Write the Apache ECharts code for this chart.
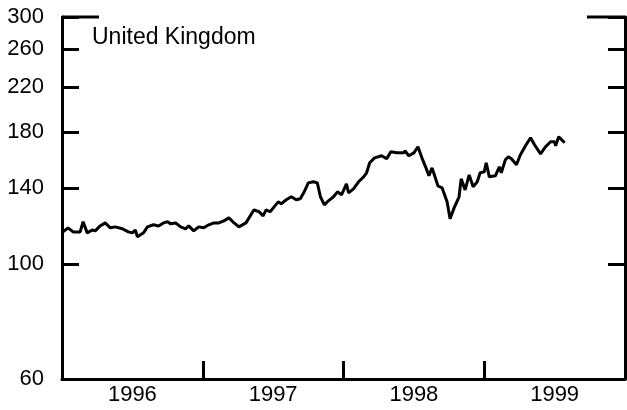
<!DOCTYPE html>
<html>
<head>
<meta charset="utf-8">
<script src="https://cdn.jsdelivr.net/npm/echarts@6/dist/echarts.min.js"></script>
<style>
  html, body { margin: 0; padding: 0; background: #fff; }
  #main { width: 627px; height: 410px; }
</style>
</head>
<body>
<div id="main"></div>
<script>
var dates = [
  1996.000, 1996.043, 1996.079, 1996.129, 1996.150, 1996.179, 1996.214, 1996.236, 1996.271, 1996.307,
  1996.343, 1996.379, 1996.429, 1996.471, 1996.500, 1996.521, 1996.536, 1996.579, 1996.607, 1996.650,
  1996.686, 1996.721, 1996.750, 1996.771, 1996.807, 1996.843, 1996.879, 1996.900, 1996.936, 1996.971,
  1997.007, 1997.043, 1997.079, 1997.114, 1997.150, 1997.186, 1997.214, 1997.257, 1997.307, 1997.364,
  1997.400, 1997.429, 1997.450, 1997.479, 1997.507, 1997.536, 1997.557, 1997.593, 1997.629, 1997.664,
  1997.693, 1997.721, 1997.750, 1997.786, 1997.814, 1997.836, 1997.864, 1997.893, 1997.929, 1997.957,
  1997.986, 1998.021, 1998.036, 1998.071, 1998.107, 1998.143, 1998.164, 1998.186, 1998.221, 1998.271,
  1998.307, 1998.336, 1998.379, 1998.429, 1998.436, 1998.464, 1998.500, 1998.529, 1998.557, 1998.586,
  1998.607, 1998.629, 1998.650, 1998.671, 1998.700, 1998.736, 1998.757, 1998.786, 1998.821, 1998.836,
  1998.864, 1998.893, 1998.921, 1998.950, 1998.971, 1999.000, 1999.014, 1999.036, 1999.079, 1999.107,
  1999.121, 1999.150, 1999.171, 1999.193, 1999.229, 1999.257, 1999.293, 1999.307, 1999.329, 1999.357,
  1999.400, 1999.436, 1999.471, 1999.500, 1999.507, 1999.529, 1999.571
];
var values = [
  115.0, 117.5, 115.4, 115.4, 120.7, 114.9, 116.4, 115.9, 118.5, 120.1,
  117.5, 118.0, 117.0, 115.4, 114.9, 116.4, 112.9, 114.9, 118.0, 119.1,
  118.5, 120.1, 120.7, 119.6, 120.1, 118.0, 117.0, 118.5, 115.9, 118.0,
  117.5, 119.1, 120.1, 120.1, 121.2, 122.8, 120.7, 118.0, 120.1, 127.3,
  126.2, 123.9, 127.3, 126.2, 129.0, 131.9, 130.7, 133.1, 134.9, 133.1,
  133.7, 137.9, 143.5, 144.2, 143.5, 134.9, 130.1, 132.5, 134.9, 137.9,
  136.1, 142.9, 137.3, 139.7, 144.2, 147.4, 150.1, 156.9, 160.4, 161.9,
  159.7, 164.8, 164.0, 164.0, 165.5, 161.9, 164.0, 168.5, 160.4, 153.4,
  148.1, 153.4, 147.4, 141.6, 140.4, 131.9, 122.3, 128.4, 134.9, 146.1,
  139.1, 148.7, 141.0, 144.2, 150.1, 150.7, 156.9, 147.4, 148.1, 154.1,
  150.1, 159.0, 161.1, 159.7, 155.5, 162.6, 169.2, 168.5, 175.4, 170.0,
  163.3, 168.5, 172.3, 172.3, 169.2, 176.1, 171.5
];
var yTicks = [60, 100, 140, 180, 220, 260, 300];
var yearTicks = [1997, 1998, 1999];
var yearLabels = [1996.5, 1997.5, 1998.5, 1999.5];

var seriesData = dates.map(function (d, i) { return [d, values[i]]; });

var myChart = echarts.init(document.getElementById('main'));
var font = 'Liberation Sans, Arial, Helvetica, sans-serif';
var yAxisBase = {
  type: 'log',
  logBase: 10,
  min: 60,
  max: 300,
  splitLine: { show: false },
  axisLine: { show: true, lineStyle: { color: '#000', width: 3 } },
  axisTick: { show: true, inside: true, length: 17, customValues: yTicks, lineStyle: { color: '#000', width: 3 } },
  minorTick: { show: false }
};
var option = {
  animation: false,
  backgroundColor: '#fff',
  title: {
    text: 'United Kingdom',
    left: 92,
    top: 26,
    padding: 0,
    textStyle: { fontFamily: font, fontSize: 23, fontWeight: 'normal', color: '#000' }
  },
  grid: { left: 62, right: 2, top: 17, bottom: 31 },
  xAxis: {
    type: 'value',
    min: 1996,
    max: 2000,
    splitLine: { show: false },
    axisLine: { lineStyle: { color: '#000', width: 3 } },
    axisTick: { inside: true, length: 18, customValues: yearTicks, lineStyle: { color: '#000', width: 3 } },
    axisLabel: {
      customValues: yearLabels,
      margin: 5,
      fontFamily: font,
      fontSize: 22,
      color: '#000',
      formatter: function (v) { return String(Math.floor(v)); }
    }
  },
  yAxis: [
    Object.assign({}, yAxisBase, {
      position: 'left',
      axisLabel: { customValues: yTicks, margin: 18, fontFamily: font, fontSize: 22, color: '#000' }
    }),
    Object.assign({}, yAxisBase, {
      position: 'right',
      axisLabel: { show: false }
    })
  ],
  graphic: [
    { type: 'line', shape: { x1: 62, y1: 17, x2: 99, y2: 17 }, style: { stroke: '#000', lineWidth: 3 } },
    { type: 'line', shape: { x1: 587, y1: 17, x2: 625, y2: 17 }, style: { stroke: '#000', lineWidth: 3 } }
  ],
  series: [{
    type: 'line',
    data: seriesData,
    showSymbol: false,
    lineStyle: { color: '#000', width: 3 },
    silent: true
  }]
};
myChart.setOption(option);
</script>
</body>
</html>
